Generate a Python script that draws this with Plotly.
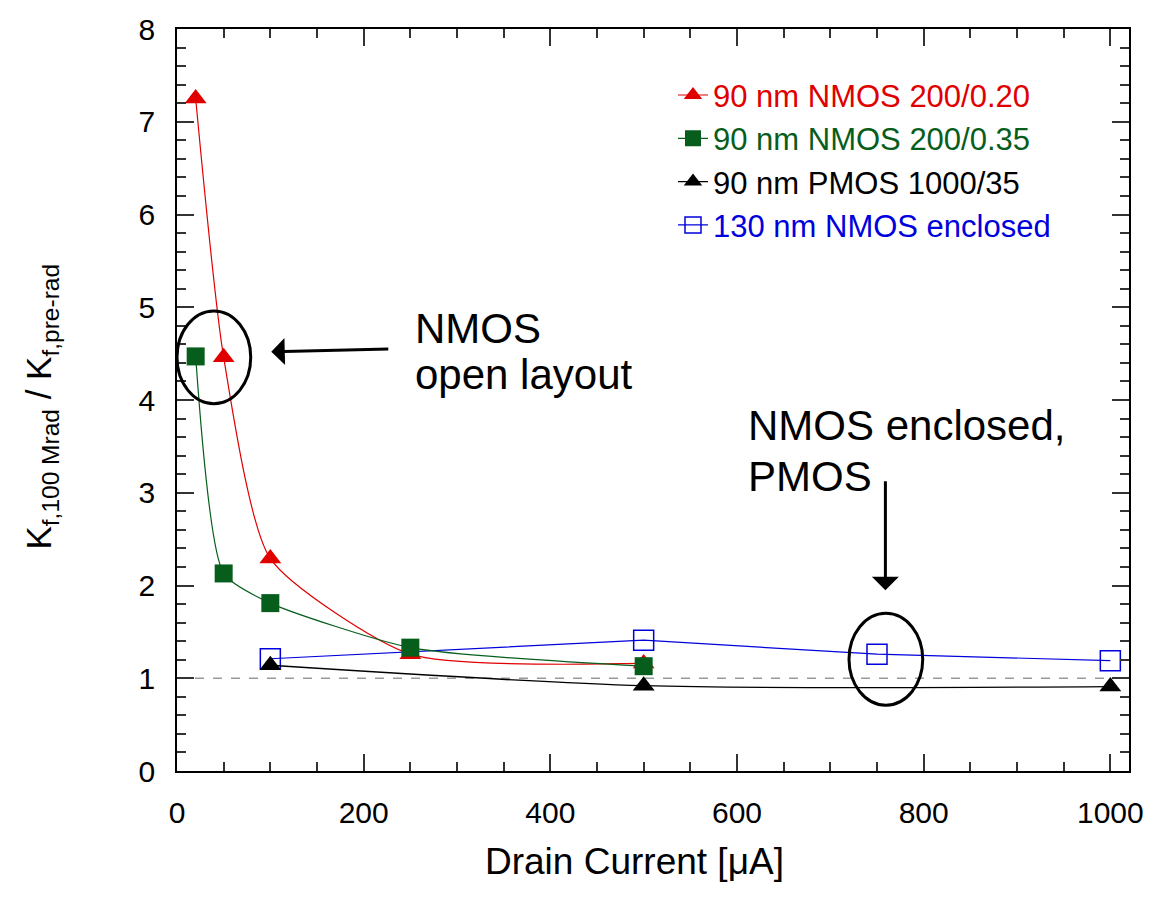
import plotly.graph_objects as go

# ---- data ----
x_red = [20, 50, 100, 250, 500]
y_red = [7.25, 4.46, 2.29, 1.26, 1.16]

x_green = [20, 50, 100, 250, 500]
y_green = [4.47, 2.13, 1.81, 1.33, 1.13]

x_black = [100, 500, 1000]
y_black = [1.14, 0.92, 0.91]

x_blue = [100, 500, 750, 1000]
y_blue = [1.21, 1.41, 1.26, 1.19]

names = ["90 nm NMOS 200/0.20", "90 nm NMOS 200/0.35",
         "90 nm PMOS 1000/35", "130 nm NMOS enclosed"]
colors = ["#e00000", "#075e1c", "#000000", "#0000dd"]

FONT = "Liberation Sans, Arial, sans-serif"

def lname(i):
    return f'<span style="color:{colors[i]}">{names[i]}</span>'

fig = go.Figure()

fig.add_trace(go.Scatter(
    x=x_blue, y=y_blue, mode="lines+markers", name=lname(3), legendrank=4,
    line=dict(color=colors[3], width=1.2),
    marker=dict(symbol="square-open", size=20, color=colors[3], line=dict(width=1.5))))
fig.add_trace(go.Scatter(
    x=x_red, y=y_red, mode="lines+markers", name=lname(0), legendrank=1,
    line=dict(color=colors[0], width=1.2, shape="spline", smoothing=0.6),
    marker=dict(symbol="triangle-up", size=19, color=colors[0])))
fig.add_trace(go.Scatter(
    x=x_green, y=y_green, mode="lines+markers", name=lname(1), legendrank=2,
    line=dict(color=colors[1], width=1.2, shape="spline", smoothing=0.6),
    marker=dict(symbol="square", size=18, color=colors[1])))
fig.add_trace(go.Scatter(
    x=x_black, y=y_black, mode="lines+markers", name=lname(2), legendrank=3,
    line=dict(color=colors[2], width=1.3, shape="spline", smoothing=0.8),
    marker=dict(symbol="triangle-up", size=19, color=colors[2])))

# reference line at 1
fig.add_shape(type="line", xref="paper", x0=0, x1=1, yref="y", y0=1, y1=1,
              line=dict(color="#999999", width=1.5, dash="dash"), layer="below")

# ellipses
fig.add_shape(type="circle", xref="x", yref="y", x0=0, x1=79, y0=3.96, y1=4.96,
              line=dict(color="black", width=3))
fig.add_shape(type="circle", xref="x", yref="y", x0=720, x1=799, y0=0.71, y1=1.70,
              line=dict(color="black", width=3))

# arrows
fig.add_annotation(x=101, y=4.52, ax=228, ay=4.55, axref="x", ayref="y",
                   xref="x", yref="y", text="", showarrow=True,
                   arrowhead=1, arrowsize=1.5, arrowwidth=3, arrowcolor="black")
fig.add_annotation(x=759, y=1.95, ax=759, ay=3.14, axref="x", ayref="y",
                   xref="x", yref="y", text="", showarrow=True,
                   arrowhead=1, arrowsize=1.5, arrowwidth=3, arrowcolor="black")

# texts (one annotation per line)
ann_font = dict(family=FONT, size=42, color="black")
for txt, xx, yy in [("NMOS", 253, 4.77), ("open layout", 253, 4.27),
                    ("NMOS enclosed,", 610, 3.72), ("PMOS", 610, 3.17)]:
    fig.add_annotation(x=xx, y=yy, xref="x", yref="y", xanchor="left", yanchor="middle",
                       text=txt, showarrow=False, font=ann_font)

# axis titles
fig.add_annotation(x=0.4807, y=-0.1218, xref="paper", yref="paper",
                   xanchor="center", yanchor="middle", showarrow=False,
                   text="Drain Current [μA]", font=dict(family=FONT, size=37, color="black"))
fig.add_annotation(x=-0.143, y=0.491, xref="paper", yref="paper",
                   xanchor="center", yanchor="middle", showarrow=False, textangle=-90,
                   text="K<sub>f,100 Mrad</sub> / K<sub>f,pre-rad</sub>",
                   font=dict(family=FONT, size=35, color="black"))

axis_common = dict(
    showgrid=False, zeroline=False, showline=True, linecolor="black", linewidth=1.5,
    mirror="allticks", ticks="inside", ticklen=17, tickwidth=1.5, tickcolor="#333333",
    tickfont=dict(family=FONT, size=30, color="black"),
)

fig.update_xaxes(range=[0, 1020], tick0=0, dtick=200, ticklabelstandoff=14,
                 minor=dict(dtick=50, ticks="inside", ticklen=9, tickwidth=1.5, tickcolor="#333333"),
                 **axis_common)
fig.update_yaxes(range=[0, 8], tick0=0, dtick=1, ticklabelstandoff=14,
                 minor=dict(dtick=0.2, ticks="inside", ticklen=9, tickwidth=1.5, tickcolor="#333333"),
                 **axis_common)

fig.update_layout(
    width=1156, height=909,
    margin=dict(l=177, r=23, t=24, b=138),
    paper_bgcolor="white", plot_bgcolor="white",
    font=dict(family=FONT, color="black"),
    legend=dict(x=0.521, y=0.947, xanchor="left", yanchor="top",
                bgcolor="rgba(0,0,0,0)", font=dict(family=FONT, size=31),
                tracegroupgap=0, itemwidth=30),
    showlegend=True,
)

fig.write_html("out.html")
